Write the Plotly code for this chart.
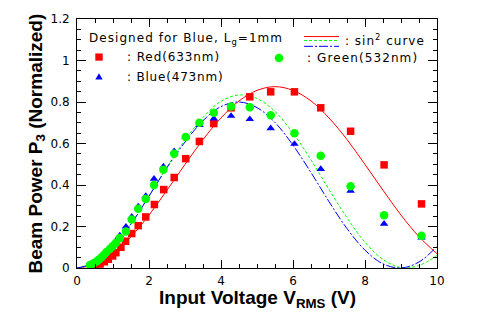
import plotly.graph_objects as go

# Measured beam power (normalized) vs. input RMS voltage
red_v = [0.41, 0.52, 0.64, 0.76, 0.87, 0.99, 1.08, 1.22, 1.35, 1.52, 1.70, 1.91, 2.15,
         2.41, 2.70, 3.02, 3.40, 3.80, 4.28, 4.80, 5.38, 6.04, 6.77, 7.60, 8.53, 9.57]
red_p = [0.003, 0.011, 0.019, 0.030, 0.042, 0.058, 0.074, 0.100, 0.129, 0.166, 0.204, 0.246, 0.306,
         0.378, 0.436, 0.527, 0.610, 0.696, 0.772, 0.825, 0.849, 0.849, 0.772, 0.659, 0.497, 0.309]

green_v = [0.36, 0.45, 0.55, 0.62, 0.69, 0.75, 0.82, 0.92, 0.99, 1.08, 1.19, 1.36, 1.52, 1.70, 1.91,
           2.14, 2.40, 2.70, 3.02, 3.40, 3.80, 4.28, 4.80, 5.38, 6.04, 6.77, 7.60, 8.53, 9.57]
green_p = [0.014, 0.022, 0.033, 0.042, 0.053, 0.064, 0.077, 0.093, 0.105, 0.121, 0.144, 0.176, 0.234, 0.285, 0.333,
           0.400, 0.473, 0.551, 0.631, 0.700, 0.748, 0.778, 0.775, 0.736, 0.649, 0.541, 0.394, 0.254, 0.155]

blue_v = [0.36, 0.45, 0.55, 0.62, 0.69, 0.75, 0.82, 0.92, 0.99, 1.08, 1.19, 1.36, 1.52, 1.70, 1.91,
          2.14, 2.40, 2.70, 3.02, 3.40, 3.80, 4.28, 4.80, 5.38, 6.04, 6.77, 7.60, 8.53, 9.57]
blue_p = [0.016, 0.025, 0.036, 0.046, 0.057, 0.069, 0.083, 0.100, 0.113, 0.131, 0.157, 0.199, 0.247, 0.296, 0.347,
          0.430, 0.489, 0.563, 0.631, 0.689, 0.720, 0.733, 0.717, 0.673, 0.598, 0.477, 0.372, 0.213, 0.147]

# sin^2 curves sampled every 0.5 V
curve_v = [0.0, 0.5, 1.0, 1.5, 2.0, 2.5, 3.0, 3.5, 4.0, 4.5, 5.0,
           5.5, 6.0, 6.5, 7.0, 7.5, 8.0, 8.5, 9.0, 9.5, 10.0]
red_fit = [0.0, 0.018, 0.069, 0.151, 0.255, 0.375, 0.499, 0.619, 0.723, 0.805, 0.856,
           0.874, 0.856, 0.805, 0.723, 0.619, 0.499, 0.375, 0.255, 0.151, 0.069]
green_fit = [0.0, 0.026, 0.100, 0.212, 0.348, 0.487, 0.617, 0.726, 0.803, 0.834, 0.817,
             0.754, 0.650, 0.521, 0.378, 0.242, 0.124, 0.041, 0.002, 0.012, 0.060]
blue_fit = [0.0, 0.026, 0.100, 0.212, 0.346, 0.484, 0.607, 0.710, 0.778, 0.800, 0.773,
            0.701, 0.592, 0.460, 0.320, 0.190, 0.086, 0.020, 0.000, 0.029, 0.104]

RED, GREEN, BLUE = "#ff0000", "#00ff00", "#0000ff"
GREEN_DASH = "3px,2px"
BLUE_DASH = "9px,2px,2px,2px"
TXT = "DejaVu Sans"
BOLD = "Liberation Sans"

fig = go.Figure()

fig.add_trace(go.Scatter(x=curve_v, y=red_fit, mode="lines", line=dict(color=RED, width=1, shape="spline")))
fig.add_trace(go.Scatter(x=curve_v, y=green_fit, mode="lines",
                         line=dict(color=GREEN, width=1, dash=GREEN_DASH, shape="spline")))
fig.add_trace(go.Scatter(x=curve_v, y=blue_fit, mode="lines",
                         line=dict(color=BLUE, width=1, dash=BLUE_DASH, shape="spline")))

fig.add_trace(go.Scatter(x=red_v, y=red_p, mode="markers",
                         marker=dict(symbol="square", size=7.5, color=RED, line=dict(width=0))))
fig.add_trace(go.Scatter(x=blue_v, y=blue_p, mode="markers",
                         marker=dict(symbol="triangle-up", size=7.5, color=BLUE, line=dict(width=0))))
fig.add_trace(go.Scatter(x=green_v, y=green_p, mode="markers",
                         marker=dict(symbol="circle", size=8.5, color=GREEN, line=dict(width=0))))

# Legend block drawn in paper coordinates
def px(xp):
    return (xp - 77) / 360.0

def py(yp):
    return (268 - yp) / 255.0

shapes = [
    dict(type="rect", xref="paper", yref="paper", x0=px(95.3), x1=px(102.7), y0=py(55.7), y1=py(48.3),
         fillcolor=RED, line=dict(width=0)),
    dict(type="path", xref="paper", yref="paper",
         path=f"M {px(95.3)},{py(75)} L {px(102.7)},{py(75)} L {px(99)},{py(68.5)} Z",
         fillcolor=BLUE, line=dict(width=0)),
    dict(type="circle", xref="paper", yref="paper", x0=px(274.7), x1=px(283.3), y0=py(57.3), y1=py(48.7),
         fillcolor=GREEN, line=dict(width=0)),
    dict(type="line", xref="paper", yref="paper", x0=px(304), x1=px(339), y0=py(31), y1=py(31),
         line=dict(color=RED, width=1)),
    dict(type="line", xref="paper", yref="paper", x0=px(304), x1=px(339), y0=py(35), y1=py(35),
         line=dict(color=GREEN, width=1, dash=GREEN_DASH)),
    dict(type="line", xref="paper", yref="paper", x0=px(304), x1=px(339), y0=py(41), y1=py(41),
         line=dict(color=BLUE, width=1, dash=BLUE_DASH)),
]

lf = dict(family=TXT, size=12, color="black")
annotations = [
    dict(text="Designed for Blue, L<sub>g</sub>=1mm", x=px(87), y=py(33)),
    dict(text=": Red(633nm)", x=px(125), y=py(52)),
    dict(text=": Blue(473nm)", x=px(125), y=py(72)),
    dict(text=": Green(532nm)", x=px(305), y=py(53)),
    dict(text=": sin<sup>2</sup> curve", x=px(343), y=py(35)),
]
for a in annotations:
    a.update(xref="paper", yref="paper", xanchor="left", yanchor="middle", align="left",
             showarrow=False, font=lf)

annotations.append(dict(text="Input Voltage V<sub>RMS</sub> (V)",
                        x=0.5, y=py(300), xref="paper", yref="paper", xanchor="center", yanchor="middle",
                        showarrow=False, font=dict(family=BOLD, size=19, color="black", weight="bold")))
annotations.append(dict(text="Beam Power P<sub>3</sub> (Normalized)",
                        x=px(36), y=0.5, xref="paper", yref="paper", xanchor="center", yanchor="middle",
                        textangle=-90, showarrow=False,
                        font=dict(family=BOLD, size=19, color="black", weight="bold")))

axis_common = dict(showgrid=False, zeroline=False, showline=True, linecolor="black", linewidth=1,
                   mirror="ticks", ticks="inside", tickcolor="black", tickwidth=1,
                   tickfont=dict(family=TXT, size=12, color="black"))

fig.update_layout(
    width=489, height=321,
    margin=dict(l=77, r=52, t=13, b=53),
    paper_bgcolor="white", plot_bgcolor="white",
    showlegend=False,
    shapes=shapes, annotations=annotations,
    xaxis=dict(range=[0, 10], tick0=0, dtick=2, ticklen=8,
               minor=dict(dtick=0.5, ticks="inside", ticklen=4, tickcolor="black"),
               ticklabelstandoff=2, **axis_common),
    yaxis=dict(range=[0, 1.2], tick0=0, dtick=0.2, ticklen=9,
               minor=dict(dtick=0.05, ticks="inside", ticklen=4, tickcolor="black"),
               ticklabelstandoff=4, **axis_common),
    yaxis2=dict(range=[0, 1.2], overlaying="y", side="left", tick0=0, dtick=0.2,
                ticks="outside", ticklen=6, tickcolor="black", showticklabels=False,
                showline=False, showgrid=False, zeroline=False),
)

# Wider letter spacing for the key texts (in annotation order)
spacing_js = """
var gd = document.getElementById('{plot_id}');
var sp = ['1.05px', '0.9px', '0.8px', '1.1px', '1px'];
var items = gd.querySelectorAll('.annotation-text');
for (var i = 0; i < sp.length && i < items.length; i++) {
    items[i].style.letterSpacing = sp[i];
}
"""

fig.write_html("out.html", post_script=spacing_js)
